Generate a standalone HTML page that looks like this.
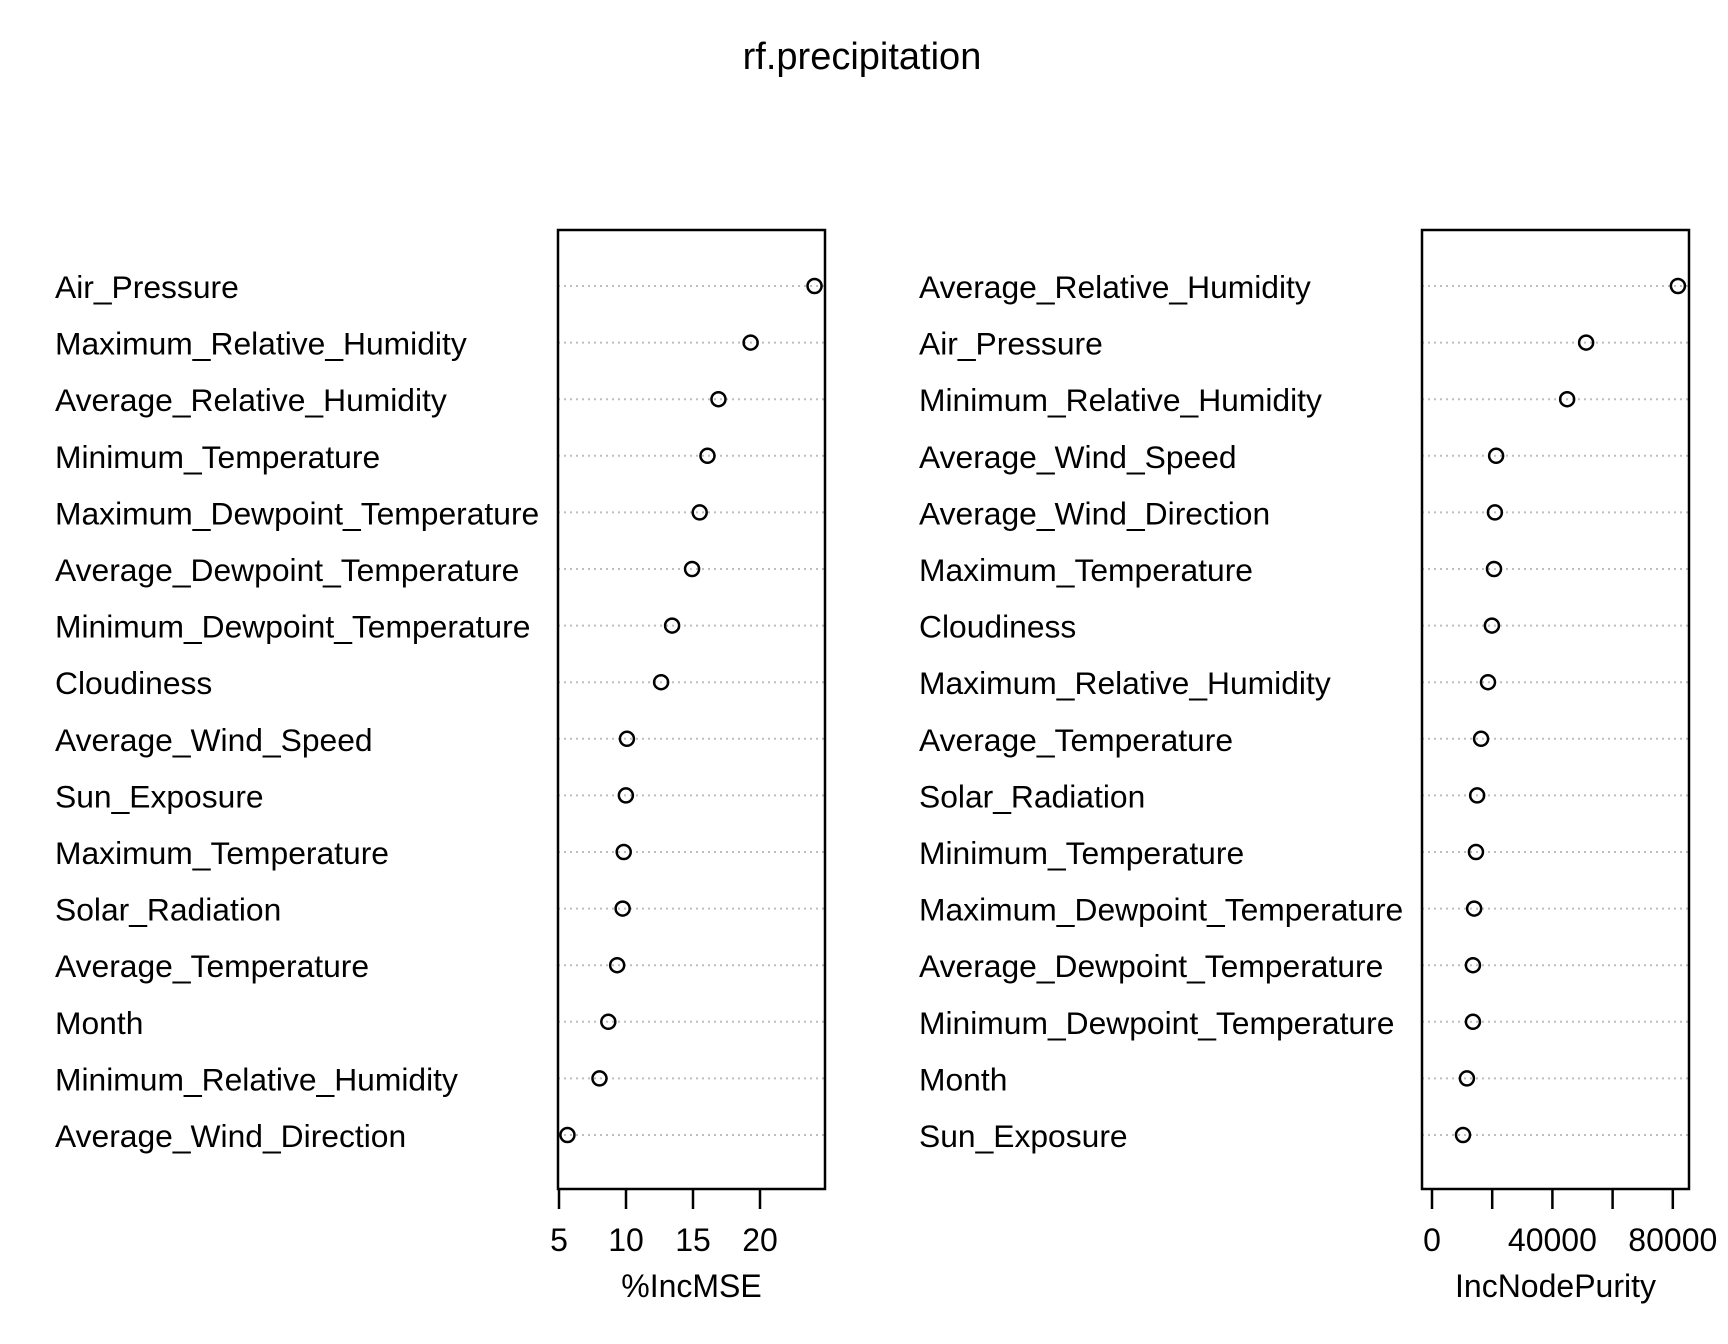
<!DOCTYPE html>
<html><head><meta charset="utf-8"><style>
html,body{margin:0;padding:0;background:#fff}
svg{display:block}
text{font-family:"Liberation Sans",Arial,sans-serif;fill:#000}
</style></head><body>
<svg id="chart" width="1728" height="1344" viewBox="0 0 1728 1344" xmlns="http://www.w3.org/2000/svg">
<text x="862" y="69" font-size="38" text-anchor="middle">rf.precipitation</text>
<g id="left"></g>
<g id="right"></g>
</svg>
<script>
const leftLabels = ["Air_Pressure","Maximum_Relative_Humidity","Average_Relative_Humidity","Minimum_Temperature","Maximum_Dewpoint_Temperature","Average_Dewpoint_Temperature","Minimum_Dewpoint_Temperature","Cloudiness","Average_Wind_Speed","Sun_Exposure","Maximum_Temperature","Solar_Radiation","Average_Temperature","Month","Minimum_Relative_Humidity","Average_Wind_Direction"];
const leftValues = [24.07,19.3,16.9,16.08,15.5,14.93,13.44,12.62,10.07,9.99,9.83,9.75,9.34,8.68,8.02,5.63];
const leftTicks = [5,10,15,20];
const rightLabels = ["Average_Relative_Humidity","Air_Pressure","Minimum_Relative_Humidity","Average_Wind_Speed","Average_Wind_Direction","Maximum_Temperature","Cloudiness","Maximum_Relative_Humidity","Average_Temperature","Solar_Radiation","Minimum_Temperature","Maximum_Dewpoint_Temperature","Average_Dewpoint_Temperature","Minimum_Dewpoint_Temperature","Month","Sun_Exposure"];
const rightValues = [81700,51200,44900,21300,20900,20600,19900,18600,16300,15000,14600,14000,13600,13600,11600,10300];
const rightTicks = [0,20000,40000,60000,80000];
const rightTickLabels = ["0","","40000","","80000"];

const NS="http://www.w3.org/2000/svg";
function mk(parent,tag,attrs,txt){const e=document.createElementNS(NS,tag);for(const k in attrs)e.setAttribute(k,attrs[k]);if(txt!==undefined)e.textContent=txt;parent.appendChild(e);return e;}
const rowY = i => 286 + i*56.6;

function panel(g, labels, values, ticks, tickLabels, labelX, box, xs, title){
  labels.forEach((l,i)=>{
    const y=rowY(i);
    const t=mk(g,"text",{x:labelX,y:y+12,"font-size":31.8},l);
    
    
    const ln=mk(g,"line",{x1:box.l,x2:box.r,y1:y,y2:y,stroke:"#bebebe","stroke-width":2,"stroke-dasharray":"2 4"});
    
    
    const c=mk(g,"circle",{cx:xs(values[i]),cy:y,r:7,fill:"none",stroke:"#000","stroke-width":2.5});
    
    
  });
  const r=mk(g,"rect",{x:box.l,y:box.t,width:box.r-box.l,height:box.b-box.t,fill:"none",stroke:"#000","stroke-width":2.5});
  
  
  ticks.forEach((v,i)=>{
    const x=xs(v);
    const tk=mk(g,"line",{x1:x,x2:x,y1:box.b,y2:box.b+20,stroke:"#000","stroke-width":2.5});
    
    
    const lab=tickLabels?tickLabels[i]:String(v);
    if(lab){
      const tl=mk(g,"text",{x:x,y:1251,"font-size":32,"text-anchor":"middle"},lab);
      
      
    }
  });
  const at=mk(g,"text",{x:(box.l+box.r)/2,y:1297,"font-size":32,"text-anchor":"middle"},title);
  
  
}
const lBox={l:558,r:825,t:230,b:1189};
const rBox={l:1422,r:1689,t:230,b:1189};
panel(document.getElementById('left'),leftLabels,leftValues,leftTicks,null,55,lBox,v=>559+(v-5)*13.4,"%IncMSE");
panel(document.getElementById('right'),rightLabels,rightValues,rightTicks,rightTickLabels,919,rBox,v=>1432+v*60.2/20000,"IncNodePurity");
</script>
</body></html>
